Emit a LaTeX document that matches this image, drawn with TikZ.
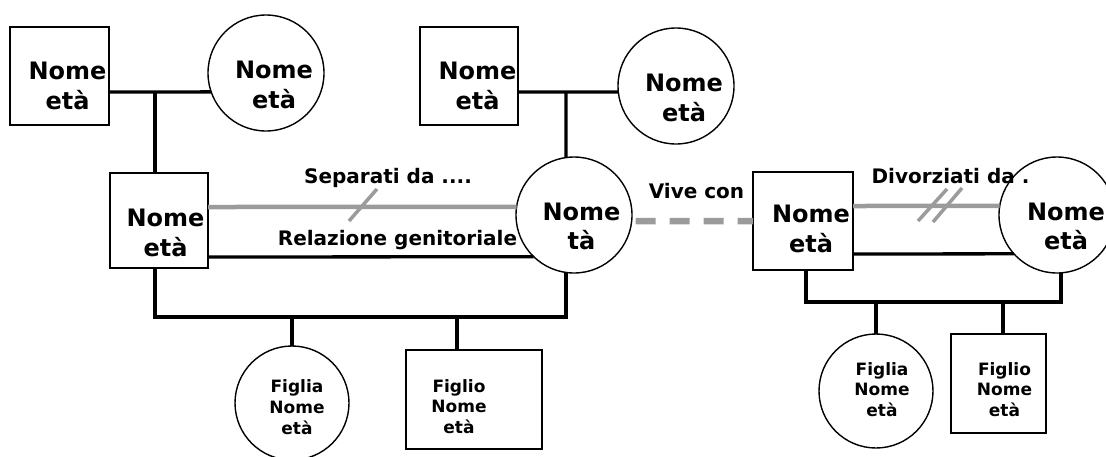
\documentclass[tikz,border=0pt]{standalone}
\usepackage{fontspec}
\setmainfont{DejaVu Sans}
\definecolor{lgray}{RGB}{155,155,155}
\begin{document}
\begin{tikzpicture}[x=1pt,y=-1pt,
  sq/.style={draw, line width=1.8pt, inner sep=0pt, outer sep=0pt},
  circ/.style={draw, circle, line width=1.4pt, inner sep=0pt, outer sep=0pt, minimum size=#1},
  txt/.style={font=\bfseries\fontsize{24}{29.3}\selectfont, align=center, inner sep=0pt},
  ctxt/.style={font=\bfseries\fontsize{17}{20.7}\selectfont, align=center, inner sep=0pt},
  lab/.style={font=\bfseries\fontsize{20}{24}\selectfont, inner sep=0pt, anchor=base},
  link/.style={line width=3.3pt},
  glink/.style={line width=4.5pt, lgray},
  gdash/.style={line width=6.5pt, lgray, dash pattern=on 20pt off 14pt},
  slash/.style={line width=3.5pt, lgray}]
\useasboundingbox (0,0) rectangle (1106,456);

% grandparents
\node[sq, minimum width=99pt, minimum height=98pt,
  label={[txt, xshift=8pt, yshift=-10pt]center:{Nome\\età}}] (f1) at (59.5,76) {};
\node[circ=116pt, label={[txt, xshift=8pt, yshift=-12pt]center:{Nome\\età}}] (m1) at (266,73) {};
\node[sq, minimum width=98pt, minimum height=98pt,
  label={[txt, xshift=8.5pt, yshift=-10pt]center:{Nome\\età}}] (f2) at (469,76) {};
\node[circ=116pt, label={[txt, xshift=8pt, yshift=-12pt]center:{Nome\\età}}] (m2) at (676,86) {};

% parents
\node[sq, minimum width=98pt, minimum height=95pt,
  label={[txt, xshift=6.5pt, yshift=-12.5pt]center:{Nome\\età}}] (p1) at (159,220.5) {};
\node[circ=116pt, label={[txt, xshift=7.5pt, yshift=-11.5pt]center:{Nome\\tà}}] (p2) at (574,215) {};
\node[sq, minimum width=100pt, minimum height=98pt,
  label={[txt, xshift=8pt, yshift=-8pt]center:{Nome\\età}}] (p3) at (803,221) {};
\node[circ=116pt, label={[txt, xshift=9pt, yshift=-11.5pt]center:{Nome\\età}}] (p4) at (1057,215) {};

% children
\node[circ=114pt, label={[ctxt, xshift=5pt, yshift=-4pt]center:{Figlia\\Nome\\età}}] (c1) at (292,403) {};
\node[sq, minimum width=136pt, minimum height=99pt,
  label={[ctxt, xshift=-15pt, yshift=-7pt]center:{Figlio\\Nome\\età}}] (c2) at (474,399.5) {};
\node[circ=114pt, label={[ctxt, xshift=6pt, yshift=1.5pt]center:{Figlia\\Nome\\età}}] (c3) at (876,391) {};
\node[sq, minimum width=95pt, minimum height=99pt,
  label={[ctxt, xshift=6pt, yshift=-6pt]center:{Figlio\\Nome\\età}}] (c4) at (998.5,383.5) {};

% junction coordinates
\coordinate (j1) at (155,92);
\coordinate (j2) at (566,92);
\coordinate (k1) at (292,317);
\coordinate (k2) at (457,317);
\coordinate (k3) at (876,302);
\coordinate (k4) at (1003,302);

% grandparent couples
\draw[link] (f1.east |- j1) -- (m1.199);
\draw[link] (j1) -- (j1 |- p1.north);
\draw[link] (f2.east |- j2) -- (m2.186);
\draw[link] (j2) -- (p2.98);

% left couple
\draw[glink] ([yshift=13.5pt]p1.east) -- (p2.172);
\draw[link] ([yshift=-36.5pt]p1.east) -- (p2.226.4);
\draw[link] ([xshift=-4pt]p1.south) |- (k1) -- (k2) -| (p2.262);
\draw[link] (k1) -- (c1.north);
\draw[link] (k2) -- (k2 |- c2.north);

% vive con
\draw[gdash] ([xshift=4pt]p2.354) -- (p3.west);

% right couple
\draw[glink] ([yshift=15pt]p3.east) -- (p4.171);
\draw[link] ([yshift=-33pt]p3.east) -- (p4.222.3);
\draw[link] ([xshift=3pt]p3.south) |- (k3) -- (k4) -| (p4.274);
\draw[link] (k3) -- (c3.north);
\draw[link] (k4) -- (k4 |- c4.north);

% slashes
\draw[slash] (349,221) -- (377,189);
\draw[slash] (918,221) -- (947,189);
\draw[slash] (933,222) -- (962,188);

% labels
\node[lab] (l1) at (388,183) {Separati da ....};
\node[lab] (l2) at (397.5,245) {Relazione genitoriale};
\node[lab] (l3) at (696.5,198) {Vive con};
\node[lab] (l4) at (950.5,183) {Divorziati da .};
\end{tikzpicture}
\end{document}
